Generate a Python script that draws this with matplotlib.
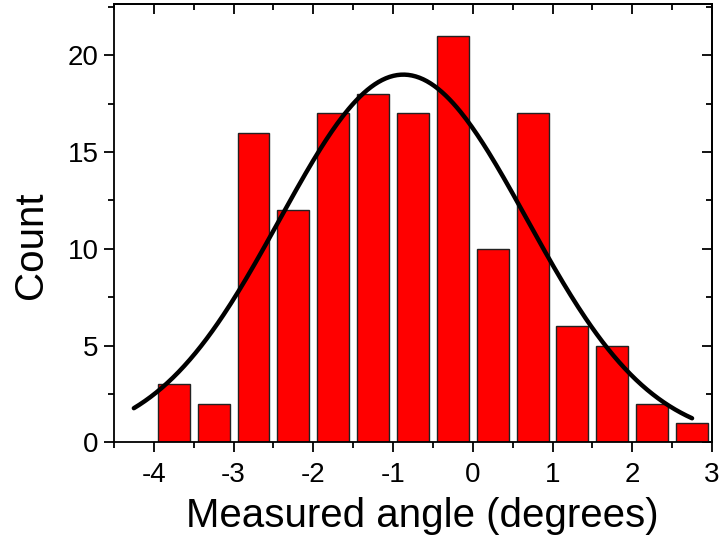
import numpy as np
import matplotlib as mpl

mpl.use("Agg")
import matplotlib.pyplot as plt
from matplotlib.ticker import MultipleLocator

# histogram bins (centres) and counts
bin_centers = [-3.75, -3.25, -2.75, -2.25, -1.75, -1.25, -0.75,
               -0.25, 0.25, 0.75, 1.25, 1.75, 2.25, 2.75]
counts = [3, 2, 16, 12, 17, 18, 17, 21, 10, 17, 6, 5, 2, 1]

# gaussian fit parameters
fit_amp = 19.0
fit_mu = -0.87
fit_sigma = 1.55
fit_range = (-4.25, 2.75)

plt.rcParams["font.family"] = ["Liberation Sans", "DejaVu Sans"]
plt.rcParams["axes.unicode_minus"] = False

fig = plt.figure(figsize=(7.21, 5.39), dpi=100)
ax = fig.add_axes([0.158, 0.1794, 0.8295, 0.8132])

ax.bar(bin_centers, counts, width=0.4, color="#ff0000",
       edgecolor="#222222", linewidth=1.0, zorder=2)

xs = np.linspace(fit_range[0], fit_range[1], 300)
ys = fit_amp * np.exp(-(xs - fit_mu) ** 2 / (2 * fit_sigma ** 2))
ax.plot(xs, ys, color="black", linewidth=3.2, solid_capstyle="round", zorder=3)

ax.set_xlim(-4.5, 3)
ax.set_ylim(0, 22.65)
ax.xaxis.set_major_locator(MultipleLocator(1))
ax.xaxis.set_minor_locator(MultipleLocator(0.5))
ax.yaxis.set_major_locator(MultipleLocator(5))
ax.yaxis.set_minor_locator(MultipleLocator(2.5))

for s in ax.spines.values():
    s.set_linewidth(1.3)

ax.tick_params(which="both", direction="out", top=False, right=False,
               width=1.3, labelsize=20)
ax.tick_params(which="major", length=7)
ax.tick_params(which="minor", length=4)
ax.tick_params(axis="x", pad=7)
ax.tick_params(axis="y", pad=4)

# inward ticks on top and right, no labels
top = ax.secondary_xaxis("top")
top.xaxis.set_major_locator(MultipleLocator(1))
top.xaxis.set_minor_locator(MultipleLocator(0.5))
top.tick_params(which="both", direction="in", width=1.3, labeltop=False)
top.tick_params(which="major", length=7)
top.tick_params(which="minor", length=4)
right = ax.secondary_yaxis("right")
right.yaxis.set_major_locator(MultipleLocator(5))
right.yaxis.set_minor_locator(MultipleLocator(2.5))
right.tick_params(which="both", direction="in", width=1.3, labelright=False)
right.tick_params(which="major", length=7)
right.tick_params(which="minor", length=4)
top.spines["top"].set_linewidth(1.3)
right.spines["right"].set_linewidth(1.3)

ax.set_xlabel("Measured angle (degrees)", fontsize=29, labelpad=7)
ax.set_ylabel("Count", fontsize=29, labelpad=13)
ax.xaxis.label.set_x(0.515)
ax.yaxis.label.set_y(0.45)

fig.savefig("out.png", dpi=100)
